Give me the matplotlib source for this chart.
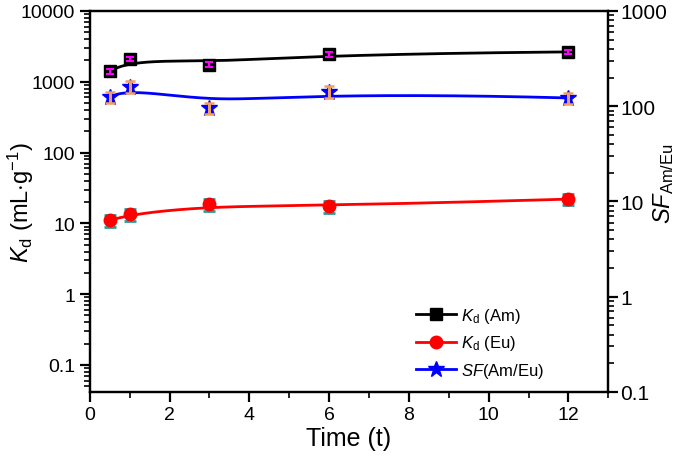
import numpy as np
import matplotlib
matplotlib.use("Agg")
import matplotlib.pyplot as plt
from matplotlib.ticker import FixedLocator, LogLocator, FuncFormatter, MultipleLocator, NullFormatter
from matplotlib.lines import Line2D

plt.rcParams['font.family'] = ['Liberation Sans', 'DejaVu Sans']
plt.rcParams['mathtext.fontset'] = 'custom'
plt.rcParams['mathtext.rm'] = 'Liberation Sans'
plt.rcParams['mathtext.it'] = 'Liberation Sans:italic'

# data
time = [0.5, 1, 3, 6, 12]
kd_am = [1400, 2100, 1750, 2460, 2640]
kd_am_err = [110, 160, 140, 190, 200]
kd_eu = [11.0, 13.5, 18.5, 17.5, 22.0]
kd_eu_err = [2.2, 2.6, 3.5, 3.4, 4.0]
sf = [125, 160, 95, 142, 122]
sf_err = [17, 22, 13, 19, 16]


def bspline(xs, ys, n=200):
    # clamped cubic B-spline with the points as control points (log y)
    P = np.column_stack([xs, np.log10(ys)])
    k = 3
    m = len(P)
    inner = np.arange(1, m - k)
    knots = np.concatenate([[0] * (k + 1), inner, [m - k] * (k + 1)]).astype(float)
    u = np.linspace(0, m - k, n)
    u[-1] -= 1e-9

    def basis(i, p, t):
        if p == 0:
            return ((knots[i] <= t) & (t < knots[i + 1])).astype(float)
        a = 0.0
        d1 = knots[i + p] - knots[i]
        if d1 > 0:
            a = (t - knots[i]) / d1 * basis(i, p - 1, t)
        b = 0.0
        d2 = knots[i + p + 1] - knots[i + 1]
        if d2 > 0:
            b = (knots[i + p + 1] - t) / d2 * basis(i + 1, p - 1, t)
        return a + b

    B = np.array([basis(i, k, u) for i in range(m)])
    C = B.T @ P
    return C[:, 0], 10 ** C[:, 1]


fig = plt.figure(figsize=(6.85, 4.6), dpi=100)
ax = fig.add_axes([0.131, 0.146, 0.757, 0.828])
ax2 = ax.twinx()

# lines
bx, by = bspline(time, kd_am)
ax.plot(bx, by, color='black', lw=2, zorder=2)
rx, ry = bspline(time, kd_eu)
ax.plot(rx, ry, color='red', lw=2, zorder=2)
sx, sy = bspline(time, sf)
ax2.plot(sx, sy, color='blue', lw=2, zorder=2)

# markers + error bars
ax.plot(time, kd_am, 's', color='black', ms=8, zorder=3)
ax.errorbar(time, kd_am, yerr=kd_am_err, fmt='none', ecolor='#ff00ff', elinewidth=1.5,
            capsize=3, capthick=1.5, zorder=4)
ax.errorbar(time, kd_eu, yerr=kd_eu_err, fmt='none', ecolor='#2f9a9a', elinewidth=2,
            capsize=4, capthick=2, zorder=2.5)
ax.plot(time, kd_eu, 'o', color='red', ms=9, zorder=3)
ax2.plot(time, sf, '*', color='blue', ms=12, zorder=3)
ax2.errorbar(time, sf, yerr=sf_err, fmt='none', ecolor='#f0a060', elinewidth=2.2,
             capsize=3.5, capthick=1.8, zorder=4)

# axes
ax.set_xlim(0, 13)
ax.set_yscale('log')
ax.set_ylim(10 ** -1.38, 1e4)
ax2.set_yscale('log')
ax2.set_ylim(0.1, 1000)

fmt = FuncFormatter(lambda v, p: '%g' % v)
ax.yaxis.set_major_locator(FixedLocator([0.1, 1, 10, 100, 1000, 10000]))
ax.yaxis.set_major_formatter(fmt)
ax.yaxis.set_minor_locator(LogLocator(base=10, subs=np.arange(2, 10), numticks=20))
ax.yaxis.set_minor_formatter(NullFormatter())
ax2.yaxis.set_major_locator(FixedLocator([0.1, 1, 10, 100, 1000]))
ax2.yaxis.set_major_formatter(fmt)
ax2.yaxis.set_minor_locator(LogLocator(base=10, subs=np.arange(2, 10), numticks=20))
ax2.yaxis.set_minor_formatter(NullFormatter())
ax.xaxis.set_major_locator(MultipleLocator(2))
ax.xaxis.set_minor_locator(MultipleLocator(1))

for a in (ax, ax2):
    for s in a.spines.values():
        s.set_linewidth(1.6)
    a.tick_params(which='major', direction='out', length=7, width=1.6, labelsize=14)
    a.tick_params(which='minor', direction='out', length=4, width=1.2)
ax.tick_params(axis='x', which='both', top=False)
ax.tick_params(axis='y', which='both', right=False)
ax2.tick_params(axis='y', which='major', pad=1.5, labelsize=15)

ax.set_xlabel('Time (t)', fontsize=18, labelpad=2)
ax.set_ylabel(r'$K_\mathrm{d}$ (mL$\cdot$g$^{-1}$)', fontsize=17)
ax.yaxis.set_label_coords(-0.104, 0.5)
ax2.set_ylabel(r'$SF_\mathrm{Am/Eu}$', fontsize=17, rotation=90, va='top')
ax2.yaxis.set_label_coords(1.083, 0.55)

handles = [
    Line2D([], [], color='black', lw=2, marker='s', ms=8),
    Line2D([], [], color='red', lw=2, marker='o', ms=9),
    Line2D([], [], color='blue', lw=2, marker='*', ms=12),
]
labels = [r'$K_\mathrm{d}$ (Am)', r'$K_\mathrm{d}$ (Eu)', r'$SF$(Am/Eu)']
ax2.legend(handles, labels, loc='upper left', bbox_to_anchor=(0.63, 0.225), frameon=False,
           fontsize=12, handlelength=2.4, handletextpad=0.3, labelspacing=0.5,
           borderpad=0, borderaxespad=0)

fig.savefig('out.png', dpi=100)
